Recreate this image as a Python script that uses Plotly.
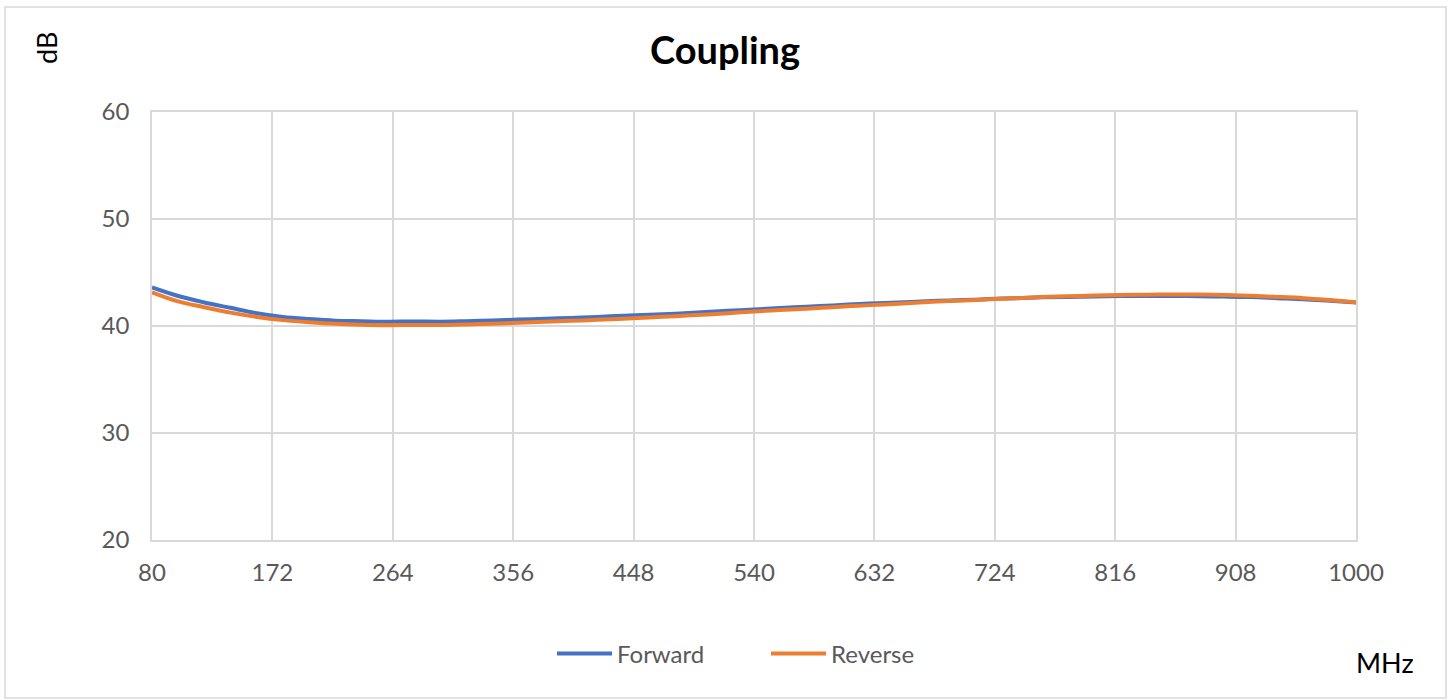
import plotly.graph_objects as go

freq = list(range(80, 1001, 20))
forward = [43.6, 42.8, 42.2, 41.7, 41.2, 40.85, 40.65, 40.5, 40.45, 40.4,
           40.42, 40.4, 40.45, 40.52, 40.6, 40.68, 40.75, 40.85, 40.95, 41.05,
           41.15, 41.28, 41.42, 41.55, 41.68, 41.8, 41.92, 42.05, 42.15, 42.25,
           42.35, 42.42, 42.52, 42.6, 42.68, 42.72, 42.76, 42.8, 42.8, 42.8,
           42.78, 42.75, 42.7, 42.6, 42.5, 42.35, 42.2]
reverse = [43.15, 42.3, 41.75, 41.25, 40.85, 40.55, 40.35, 40.2, 40.12, 40.08,
           40.1, 40.1, 40.15, 40.22, 40.3, 40.4, 40.48, 40.58, 40.68, 40.8,
           40.92, 41.05, 41.2, 41.35, 41.5, 41.62, 41.75, 41.9, 42.02, 42.15,
           42.28, 42.38, 42.5, 42.6, 42.7, 42.78, 42.84, 42.9, 42.93, 42.95,
           42.94, 42.9, 42.82, 42.72, 42.6, 42.42, 42.22]
x_ticks = [80, 172, 264, 356, 448, 540, 632, 724, 816, 908, 1000]
y_ticks = [20, 30, 40, 50, 60]

FONT = "Lato"
fig = go.Figure()
fig.add_trace(go.Scatter(x=freq, y=forward, mode="lines", name="Forward",
                         line=dict(color="#4472C4", width=4, shape="spline")))
fig.add_trace(go.Scatter(x=freq, y=reverse, mode="lines", name="Reverse",
                         line=dict(color="#ED7D31", width=4, shape="spline")))

L, R, T, B = 152, 95, 112, 160
W, H = 1451, 700
pw, ph = W - L - R, H - T - B

def px(x):
    return (x - L) / pw

def py(y):
    return (H - B - y) / ph

fig.update_layout(
    width=W, height=H,
    margin=dict(l=L, r=R, t=T, b=B),
    paper_bgcolor="white", plot_bgcolor="white",
    font=dict(family=FONT, color="#595959"),
    title=dict(text="<b>Coupling</b>", xref="container", x=725 / W,
               xanchor="center", y=1 - 51 / H, yanchor="middle",
               font=dict(size=38, color="#000000", family=FONT)),
    showlegend=True,
    legend=dict(orientation="h", x=px(552), xanchor="left", y=py(654),
                yanchor="middle", font=dict(size=24, color="#595959"),
                itemwidth=55, entrywidth=144, entrywidthmode="pixels",
                tracegroupgap=0),
    xaxis=dict(range=[80, 1000], tickmode="array", tickvals=x_ticks,
               ticktext=[str(v) for v in x_ticks],
               showgrid=True, gridcolor="#D9D9D9", gridwidth=1.5,
               showline=True, linecolor="#D9D9D9", linewidth=1.5, mirror=True,
               zeroline=False, ticks="", tickfont=dict(size=24, color="#595959"),
               ticklabelstandoff=10),
    yaxis=dict(range=[20, 60], tickmode="array", tickvals=y_ticks,
               showgrid=True, gridcolor="#D9D9D9", gridwidth=1.5,
               showline=True, linecolor="#D9D9D9", linewidth=1.5, mirror=True,
               zeroline=False, ticks="", tickfont=dict(size=24, color="#595959"),
               ticklabelstandoff=16),
    annotations=[
        dict(text="dB", xref="paper", yref="paper", x=px(46), y=py(48),
             showarrow=False, textangle=-90, xanchor="center", yanchor="middle",
             font=dict(size=27, color="#000000", family=FONT)),
        dict(text="MHz", xref="paper", yref="paper", x=px(1385), y=py(662),
             showarrow=False, xanchor="center", yanchor="middle",
             font=dict(size=27, color="#000000", family=FONT)),
    ],
    shapes=[dict(type="rect", xref="paper", yref="paper",
                 x0=px(5), x1=px(1446), y0=py(698), y1=py(7),
                 line=dict(color="#D9D9D9", width=1.5), fillcolor="rgba(0,0,0,0)",
                 layer="below")],
)

fig.write_html("out.html", config={"displayModeBar": False},
               post_script="document.body.style.margin='0';document.body.style.overflow='hidden';")
